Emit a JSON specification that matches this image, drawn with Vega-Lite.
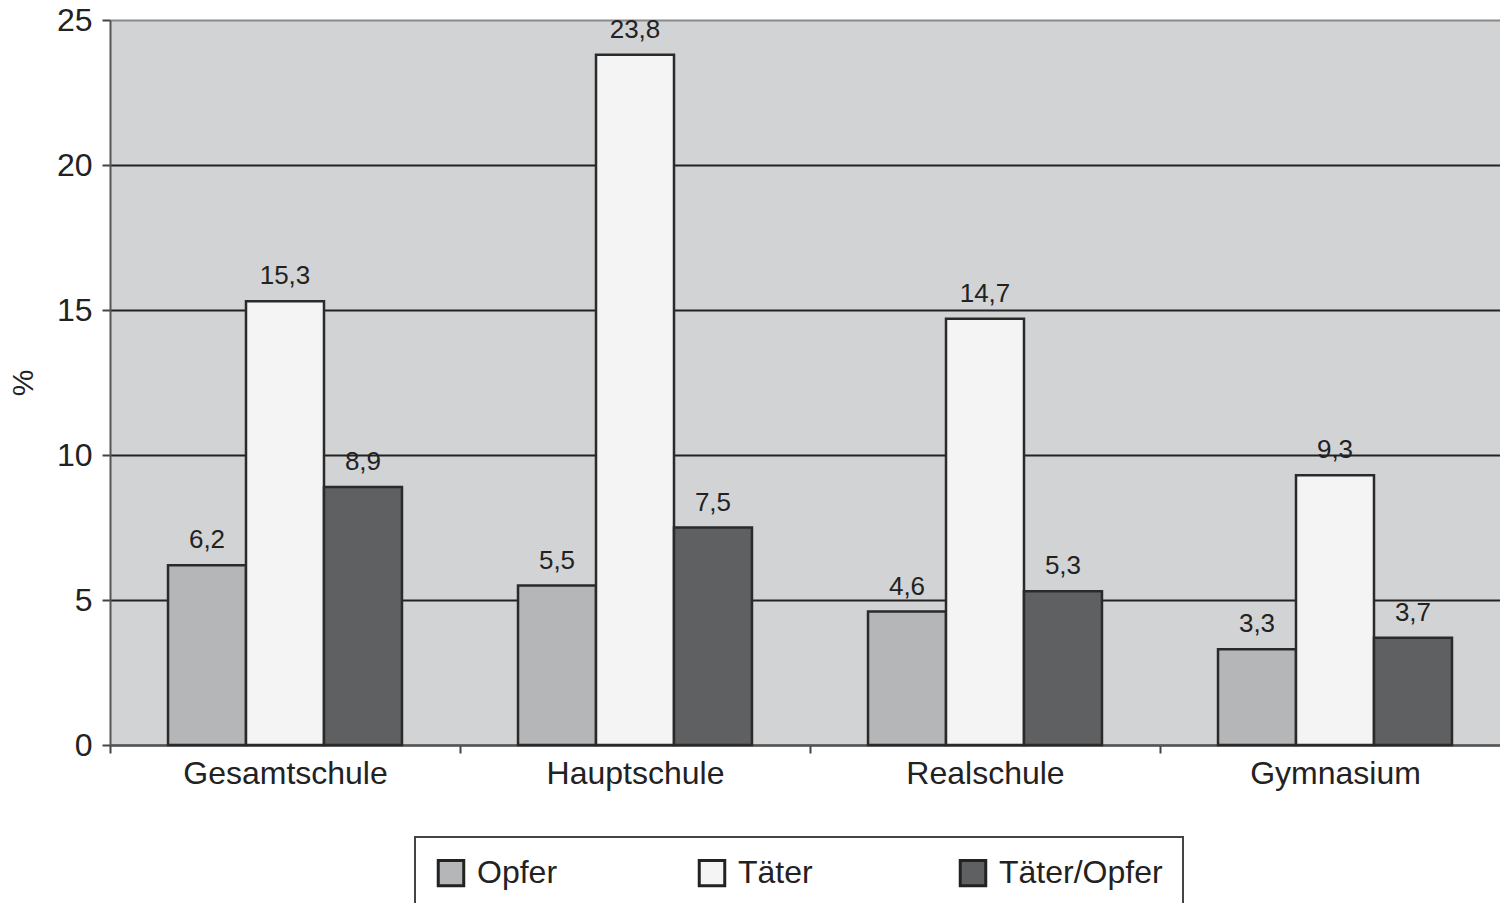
{
  "$schema": "https://vega.github.io/schema/vega-lite/v6.json",
  "width": 1400,
  "height": 725,
  "autosize": {"type": "none"},
  "padding": {"left": 110, "top": 20, "right": 0, "bottom": 158},
  "background": "white",
  "config": {
    "font": "Liberation Sans",
    "view": {"fill": "#d2d3d5", "stroke": null}
  },
  "data": {
    "values": [
      {"schule": "Gesamtschule", "gruppe": "Opfer", "wert": 6.2, "label": "6,2"},
      {"schule": "Gesamtschule", "gruppe": "Täter", "wert": 15.3, "label": "15,3"},
      {"schule": "Gesamtschule", "gruppe": "Täter/Opfer", "wert": 8.9, "label": "8,9"},
      {"schule": "Hauptschule", "gruppe": "Opfer", "wert": 5.5, "label": "5,5"},
      {"schule": "Hauptschule", "gruppe": "Täter", "wert": 23.8, "label": "23,8"},
      {"schule": "Hauptschule", "gruppe": "Täter/Opfer", "wert": 7.5, "label": "7,5"},
      {"schule": "Realschule", "gruppe": "Opfer", "wert": 4.6, "label": "4,6"},
      {"schule": "Realschule", "gruppe": "Täter", "wert": 14.7, "label": "14,7"},
      {"schule": "Realschule", "gruppe": "Täter/Opfer", "wert": 5.3, "label": "5,3"},
      {"schule": "Gymnasium", "gruppe": "Opfer", "wert": 3.3, "label": "3,3"},
      {"schule": "Gymnasium", "gruppe": "Täter", "wert": 9.3, "label": "9,3"},
      {"schule": "Gymnasium", "gruppe": "Täter/Opfer", "wert": 3.7, "label": "3,7"}
    ]
  },
  "encoding": {
    "x": {
      "field": "schule", "type": "nominal", "sort": null,
      "scale": {"paddingInner": 0, "paddingOuter": 0},
      "axis": {
        "title": null, "labelAngle": 0, "labelFontSize": 32, "labelColor": "#222", "labelLimit": 400,
        "labelPadding": 5, "tickBand": "extent", "tickSize": 8, "tickColor": "#444", "tickWidth": 2,
        "domainColor": "#555", "domainWidth": 2
      }
    },
    "xOffset": {"field": "gruppe", "type": "nominal", "sort": ["Opfer", "Täter", "Täter/Opfer"],
      "scale": {"paddingInner": 0, "paddingOuter": 0.744}},
    "y": {
      "field": "wert", "type": "quantitative",
      "scale": {"domain": [0, 25], "nice": false},
      "axis": {
        "title": "%", "titleFontSize": 30, "titleFontWeight": "normal", "titleColor": "#222", "titlePadding": 18,
        "values": [0, 5, 10, 15, 20, 25], "labelFontSize": 32, "labelColor": "#222", "labelPadding": 10,
        "tickSize": 8, "tickColor": "#444", "tickWidth": 2,
        "domainColor": "#555", "domainWidth": 2,
        "grid": true, "gridWidth": 2,
        "gridColor": {"condition": {"test": "datum.value == 25", "value": "#8a8a8a"}, "value": "#222"}
      }
    }
  },
  "layer": [
    {
      "mark": {"type": "bar", "stroke": "#2a2a2a", "strokeWidth": 2.5},
      "encoding": {
        "fill": {
          "field": "gruppe", "type": "nominal",
          "scale": {"domain": ["Opfer", "Täter", "Täter/Opfer"], "range": ["#b5b6b8", "#f4f4f4", "#5f6062"]},
          "legend": {
            "title": null, "orient": "none", "legendX": 305, "legendY": 817,
            "direction": "horizontal", "columns": 3, "gridAlign": "all",
            "symbolType": "square", "symbolSize": 650, "symbolStrokeColor": "#222", "symbolStrokeWidth": 3,
            "labelFontSize": 32, "labelColor": "#222", "labelOffset": 10, "labelLimit": 300,
            "columnPadding": 52, "padding": 20,
            "strokeColor": "#444", "fillColor": "white",
            "encode": {"legend": {"update": {"strokeWidth": {"value": 2}}}}
          }
        }
      }
    },
    {
      "mark": {"type": "text", "baseline": "bottom", "dy": -12, "fontSize": 26, "color": "#222"},
      "encoding": {
        "text": {"field": "label", "type": "nominal"}
      }
    }
  ]
}
